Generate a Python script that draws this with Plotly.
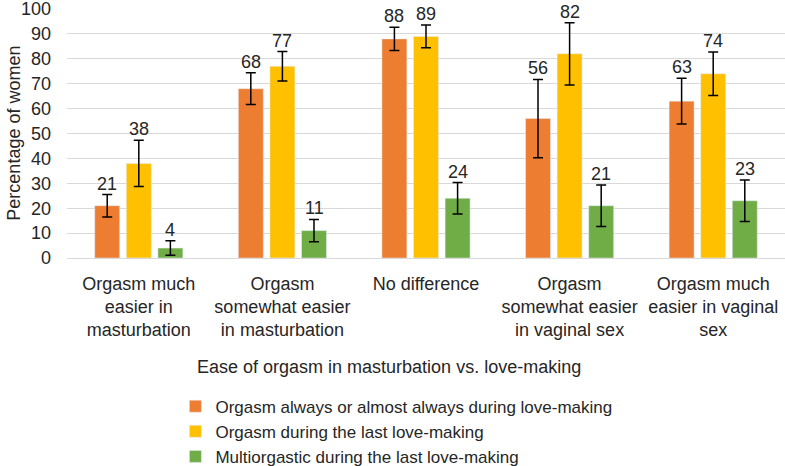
import plotly.graph_objects as go

# categories on the x axis
categories = ["Orgasm much<br>easier in<br>masturbation",
              "Orgasm<br>somewhat easier<br>in masturbation",
              "No difference",
              "Orgasm<br>somewhat easier<br>in vaginal sex",
              "Orgasm much<br>easier in vaginal<br>sex"]

series_names = ["Orgasm always or almost always during love-making",
                "Orgasm during the last love-making",
                "Multiorgastic during the last love-making"]

always_vals = [21, 68, 88, 56, 63]
last_vals = [38, 77, 89, 82, 74]
multi_vals = [4, 11, 24, 21, 23]

# error bar half widths
always_err = [4.5, 6.4, 4.7, 15.7, 9.2]
last_err = [9.3, 5.9, 4.6, 12.5, 8.7]
multi_err = [2.9, 4.5, 6.3, 8.3, 8.3]

colors = ["#ED7D31", "#FFC000", "#70AD47"]
FONT = "Liberation Sans, Arial, sans-serif"
TXT = "#262626"

all_vals = [always_vals, last_vals, multi_vals]
all_errs = [always_err, last_err, multi_err]

fig = go.Figure()
for name, vals, errs, col in zip(series_names, all_vals, all_errs, colors):
    fig.add_trace(go.Bar(x=categories, y=vals, name=name, marker_color=col,
                         legendgroup=name,
                         error_y=dict(type="data", array=errs, visible=True,
                                      color="black", thickness=1.5, width=5)))

# value labels above the error bars
slot = 31.6
for i, (vals, errs) in enumerate(zip(all_vals, all_errs)):
    for cat, v, e in zip(categories, vals, errs):
        fig.add_annotation(x=cat, y=v + e, text=str(v), showarrow=False,
                           yanchor="bottom", xshift=(i - 1) * slot, yshift=-1,
                           font=dict(size=18, color=TXT, family=FONT))

# axis titles
fig.add_annotation(text="Ease of orgasm in masturbation vs. love-making",
                   xref="paper", yref="paper", x=0.448, y=-0.436, showarrow=False,
                   xanchor="center", yanchor="middle",
                   font=dict(size=18, color=TXT, family=FONT))
fig.add_annotation(text="Percentage of women", textangle=-90,
                   xref="paper", yref="paper", x=-0.075, y=0.5, showarrow=False,
                   xanchor="center", yanchor="middle",
                   font=dict(size=18, color=TXT, family=FONT))

fig.update_layout(
    width=785, height=466,
    margin=dict(l=67, r=0, t=9, b=208, autoexpand=False),
    paper_bgcolor="white", plot_bgcolor="white",
    barmode="group", bargap=0.34, bargroupgap=0.21,
    font=dict(family=FONT, size=18, color=TXT),
    showlegend=True,
    legend=dict(orientation="v", x=0.151, xref="paper", y=0.166, yref="container",
                xanchor="left", yanchor="top",
                font=dict(size=17, family=FONT, color=TXT),
                tracegroupgap=0, itemwidth=30),
    yaxis=dict(range=[0, 100], dtick=10, showgrid=True, gridcolor="#d9d9d9",
               gridwidth=1, zeroline=False, showline=False, ticks="",
               ticklabelstandoff=15, automargin=False, ticklabeloverflow="allow",
               tickfont=dict(size=18, family=FONT, color=TXT)),
    xaxis=dict(showgrid=False, showline=True, linecolor="#d9d9d9", ticks="",
               ticklabelstandoff=9, automargin=False, ticklabeloverflow="allow",
               tickfont=dict(size=18, family=FONT, color=TXT)),
)

# drop the default page margin so the figure sits at the top-left corner
fig.write_html("out.html", config={"displayModeBar": False},
               post_script="document.body.style.margin='0';")
